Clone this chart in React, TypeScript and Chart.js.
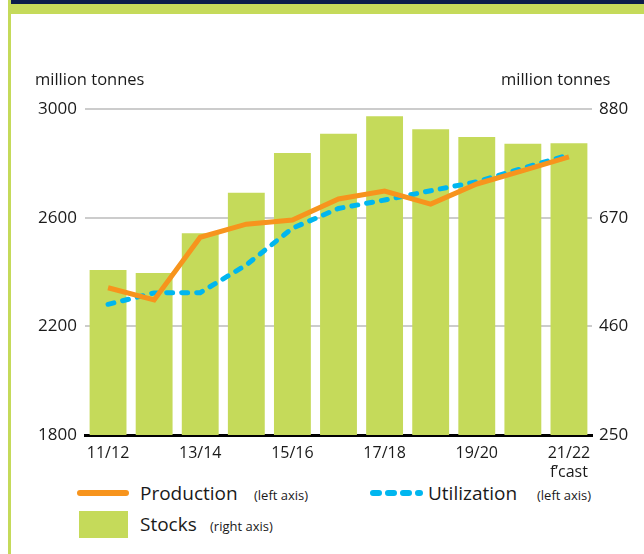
import React, { useEffect, useRef } from "react";
import { Chart, registerables } from "chart.js";

Chart.register(...registerables);

const categories = ["11/12", "12/13", "13/14", "14/15", "15/16", "16/17", "17/18", "18/19", "19/20", "20/21", "21/22 f’cast"];
const xTickLabels: (string | string[])[] = ["11/12", "", "13/14", "", "15/16", "", "17/18", "", "19/20", "", ["21/22", "f’cast"]];
const production = [2342, 2297, 2528, 2576, 2591, 2669, 2698, 2650, 2724, 2773, 2824];
const utilization = [2281, 2323, 2324, 2426, 2561, 2634, 2665, 2699, 2732, 2782, 2831];
const stocks = [569, 563, 640, 718, 795, 832, 866, 841, 826, 813, 814];
const leftTicks = [1800, 2200, 2600, 3000];
const rightTicks = [250, 460, 670, 880];

const ORANGE = "#F7941D";
const CYAN = "#00B6EF";
const GREEN = "#C5DA5A";
const NAVY = "#0B1D4A";
const FONT = "'Open Sans', sans-serif";

export default function App() {
  const ref = useRef<HTMLCanvasElement | null>(null);

  useEffect(() => {
    if (!ref.current) return;
    const chart = new Chart(ref.current, {
      type: "bar",
      data: {
        labels: categories,
        datasets: [
          {
            type: "line",
            label: "Production",
            data: production,
            yAxisID: "y",
            borderColor: ORANGE,
            borderWidth: 5,
            pointRadius: 0,
            tension: 0,
            borderJoinStyle: "miter",
            order: 0,
          },
          {
            type: "line",
            label: "Utilization",
            data: utilization,
            yAxisID: "y",
            borderColor: CYAN,
            borderWidth: 5,
            borderDash: [6, 9],
            borderCapStyle: "round",
            pointRadius: 0,
            tension: 0,
            order: 1,
          },
          {
            type: "bar",
            label: "Stocks",
            data: stocks,
            yAxisID: "y1",
            backgroundColor: GREEN,
            barPercentage: 0.8,
            categoryPercentage: 1.0,
            order: 2,
          },
        ],
      },
      options: {
        responsive: false,
        animation: false,
        layout: { padding: { top: 109, left: 0, right: 0, bottom: 0 } },
        plugins: { legend: { display: false }, tooltip: { enabled: false } },
        scales: {
          x: {
            offset: true,
            grid: { display: false },
            border: { display: true, color: "#000", width: 3 },
            ticks: {
              autoSkip: false,
              maxRotation: 0,
              padding: 1,
              color: "#1a1a1a",
              font: { family: FONT, size: 16, lineHeight: 1.2 },
              callback: (_v: any, i: number) => xTickLabels[i],
            },
            afterFit: (s: any) => {
              s.height = 45;
            },
          },
          y: {
            position: "left",
            min: 1800,
            max: 3000,
            afterBuildTicks: (s: any) => {
              s.ticks = leftTicks.map((v) => ({ value: v }));
            },
            grid: {
              color: (ctx: any) => (ctx.tick && ctx.tick.value === 1800 ? "rgba(0,0,0,0)" : "#cccccc"),
              lineWidth: 2,
              drawTicks: false,
            },
            border: { display: false },
            ticks: {
              padding: 8,
              color: "#1a1a1a",
              font: { family: FONT, size: 17 },
              callback: (v: any) => String(v),
            },
            afterFit: (s: any) => {
              s.width = 85;
            },
          },
          y1: {
            position: "right",
            min: 250,
            max: 880,
            afterBuildTicks: (s: any) => {
              s.ticks = rightTicks.map((v) => ({ value: v }));
            },
            grid: { display: false, drawTicks: false },
            border: { display: false },
            ticks: {
              padding: 7,
              color: "#1a1a1a",
              font: { family: FONT, size: 17 },
              callback: (v: any) => String(v),
            },
            afterFit: (s: any) => {
              s.width = 52;
            },
          },
        },
      },
    });
    return () => chart.destroy();
  }, []);

  const textStyle: React.CSSProperties = { fontFamily: FONT, color: "#1a1a1a", position: "absolute", whiteSpace: "nowrap" };

  return (
    <div style={{ position: "fixed", left: 0, top: 0, width: 644, height: 554, background: "#fff", overflow: "hidden" }}>
      <div style={{ position: "absolute", left: 8, top: 0, width: 636, height: 4, background: NAVY }} />
      <div style={{ position: "absolute", left: 8, top: 4, width: 636, height: 10, background: GREEN }} />
      <div style={{ position: "absolute", left: 8, top: 0, width: 3, height: 554, background: GREEN }} />
      <canvas ref={ref} width={644} height={480} style={{ position: "absolute", left: 0, top: 0, width: 644, height: 480 }} />
      <div style={{ ...textStyle, left: 35, top: 67, fontSize: 16.5 }}>million tonnes</div>
      <div style={{ ...textStyle, left: 501, top: 67, fontSize: 16.5 }}>million tonnes</div>

      <svg style={{ position: "absolute", left: 70, top: 483 }} width={360} height={20}>
        <line x1={10} y1={10} x2={56} y2={10} stroke={ORANGE} strokeWidth={6} strokeLinecap="round" />
        <line x1={303} y1={10} x2={350} y2={10} stroke={CYAN} strokeWidth={6} strokeLinecap="round" strokeDasharray="6 9" />
      </svg>
      <div style={{ ...textStyle, left: 140, top: 480, fontSize: 19 }}>Production</div>
      <div style={{ ...textStyle, left: 254, top: 486, fontSize: 13 }}>(left axis)</div>
      <div style={{ ...textStyle, left: 428, top: 480, fontSize: 19 }}>Utilization</div>
      <div style={{ ...textStyle, left: 537, top: 486, fontSize: 13 }}>(left axis)</div>
      <div style={{ position: "absolute", left: 79, top: 511, width: 49, height: 27, background: GREEN }} />
      <div style={{ ...textStyle, left: 140, top: 511, fontSize: 19 }}>Stocks</div>
      <div style={{ ...textStyle, left: 210, top: 517, fontSize: 13 }}>(right axis)</div>
    </div>
  );
}
